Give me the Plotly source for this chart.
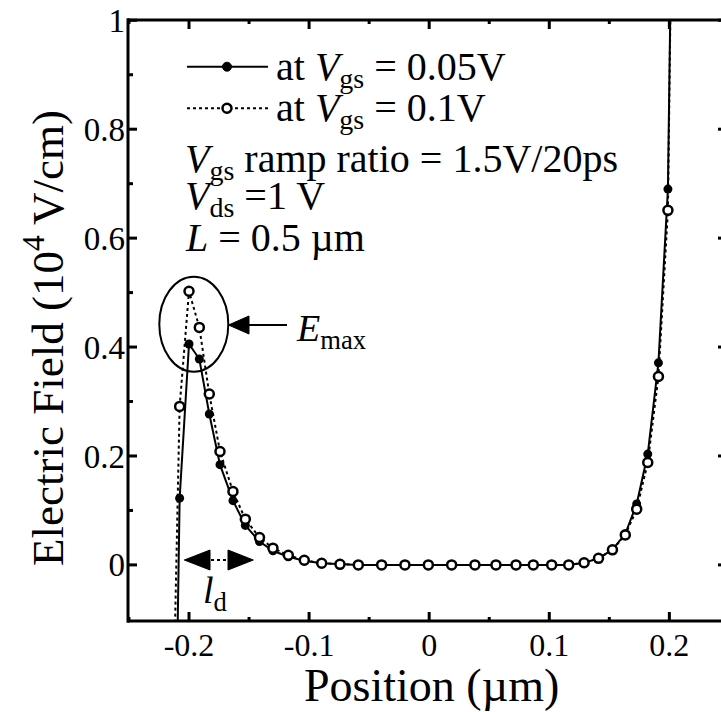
import plotly.graph_objects as go

# ---------------- data ----------------
position_um = [-0.212, -0.2078, -0.2000, -0.1914, -0.1831, -0.1742, -0.1634, -0.1531,
               -0.1413, -0.1301, -0.1173, -0.1040, -0.0895, -0.0743, -0.0590, -0.0396,
               -0.0202, -0.0007, 0.0187, 0.0381, 0.0556, 0.0723, 0.0867, 0.1020,
               0.1162, 0.1290, 0.1410, 0.1526, 0.1633, 0.1728, 0.1820, 0.1909,
               0.1988, 0.2025]

field_vgs_005 = [-0.48, 0.1226, 0.4057, 0.378, 0.277, 0.184, 0.118, 0.0725,
                 0.0428, 0.026, 0.015, 0.0075, 0.003, 0.001, 0.0, 0.0,
                 0.0, 0.0, 0.0, 0.0, 0.0, 0.0, 0.0, 0.0,
                 0.0, 0.004, 0.012, 0.028, 0.057, 0.112, 0.2035, 0.371,
                 0.690, 1.3]

field_vgs_01 = [-0.15, 0.291, 0.5024, 0.436, 0.3137, 0.2083, 0.1348, 0.084,
                0.0502, 0.0307, 0.0178, 0.0086, 0.003, 0.001, 0.0, 0.0,
                0.0, 0.0, 0.0, 0.0, 0.0, 0.0, 0.0, 0.0,
                0.0, 0.004, 0.012, 0.0276, 0.0551, 0.1024, 0.188, 0.346,
                0.651, 1.3]

x_tickvals = [-0.2, -0.1, 0.0, 0.1, 0.2]
x_ticktext = ["-0.2", "-0.1", "0", "0.1", "0.2"]
x_minorvals = [-0.25, -0.15, -0.05, 0.05, 0.15]
y_tickvals = [0, 0.2, 0.4, 0.6, 0.8, 1.0]
y_ticktext = ["0", "0.2", "0.4", "0.6", "0.8", "1"]
y_minorvals = [0.1, 0.3, 0.5, 0.7, 0.9]

legend_labels = ["at <i>V</i><sub>gs</sub> = 0.05V", "at <i>V</i><sub>gs</sub> = 0.1V"]
info_lines = ["<i>V</i><sub>gs</sub> ramp ratio = 1.5V/20ps",
              "<i>V</i><sub>ds</sub> =1 V",
              "<i>L</i> = 0.5 \u00b5m"]

# ---------------- layout geometry ----------------
W, H = 721, 712
L, R, T, B = 128, 721, 20, 621
XR = [-0.2508, 0.2430]
YR = [-0.103, 1.0005]
FONT = "Liberation Serif, Times New Roman, serif"


def fx(px):
    return (px - L) / (R - L)


def fy(py):
    return (B - py) / (B - T)


def dx(v):  # data x -> paper x
    return (v - XR[0]) / (XR[1] - XR[0])


def dy(v):  # data y -> paper y
    return (v - YR[0]) / (YR[1] - YR[0])


fig = go.Figure()

fig.add_trace(go.Scatter(
    x=position_um, y=field_vgs_005, mode="lines+markers",
    line=dict(color="black", width=2),
    marker=dict(symbol="circle", size=9, color="black"),
    showlegend=False))

fig.add_trace(go.Scatter(
    x=position_um, y=field_vgs_01, mode="lines+markers",
    line=dict(color="black", width=2, dash="dot"),
    marker=dict(symbol="circle", size=9, color="white",
                line=dict(color="black", width=2.5)),
    showlegend=False))

shapes = []
annotations = []
BLK = dict(color="black", width=3)

# frame: left, bottom, top (right edge is cut off in the original)
shapes.append(dict(type="line", xref="paper", yref="paper", x0=0, x1=0, y0=-0.003, y1=1.003, line=BLK))
shapes.append(dict(type="line", xref="paper", yref="paper", x0=0, x1=1, y0=0, y1=0, line=BLK))
shapes.append(dict(type="line", xref="paper", yref="paper", x0=0, x1=1, y0=1, y1=1, line=BLK))

# x ticks (bottom and top, inward)
for v in x_tickvals:
    shapes.append(dict(type="line", xref="paper", yref="paper", x0=dx(v), x1=dx(v),
                       y0=0, y1=fy(B - 9), line=BLK))
    shapes.append(dict(type="line", xref="paper", yref="paper", x0=dx(v), x1=dx(v),
                       y0=1, y1=fy(T + 9), line=BLK))
for v in x_minorvals:
    shapes.append(dict(type="line", xref="paper", yref="paper", x0=dx(v), x1=dx(v),
                       y0=0, y1=fy(B - 4), line=BLK))
    shapes.append(dict(type="line", xref="paper", yref="paper", x0=dx(v), x1=dx(v),
                       y0=1, y1=fy(T + 4), line=BLK))
# y ticks (left inward, right stubs at the cut edge)
for v in y_tickvals:
    shapes.append(dict(type="line", xref="paper", yref="paper", x0=0, x1=fx(L + 9),
                       y0=dy(v), y1=dy(v), line=BLK))
    shapes.append(dict(type="line", xref="paper", yref="paper", x0=fx(R - 3), x1=1,
                       y0=dy(v), y1=dy(v), line=BLK))
for v in y_minorvals:
    shapes.append(dict(type="line", xref="paper", yref="paper", x0=0, x1=fx(L + 5),
                       y0=dy(v), y1=dy(v), line=BLK))

# legend samples
leg_rows = [66.7, 108.3]
for i, yy in enumerate(leg_rows):
    shapes.append(dict(type="line", xref="paper", yref="paper",
                       x0=fx(187), x1=fx(268), y0=fy(yy), y1=fy(yy),
                       line=dict(color="black", width=2,
                                 dash="solid" if i == 0 else "dot")))
    r = 4.5
    shapes.append(dict(type="circle", xref="paper", yref="paper",
                       x0=fx(227 - r), x1=fx(227 + r), y0=fy(yy + r), y1=fy(yy - r),
                       fillcolor="black" if i == 0 else "white",
                       line=dict(color="black", width=2.5 if i else 1)))
    annotations.append(dict(text=legend_labels[i], xref="paper", yref="paper",
                            x=fx(274), y=fy(yy + 2), xanchor="left", yanchor="middle",
                            showarrow=False, font=dict(family=FONT, size=40, color="black")))

info_rows = [161, 198, 237]
for txt, yy in zip(info_lines, info_rows):
    annotations.append(dict(text=txt, xref="paper", yref="paper",
                            x=fx(183), y=fy(yy), xanchor="left", yanchor="middle",
                            showarrow=False, font=dict(family=FONT, size=40, color="black")))

# ellipse around the peak
shapes.append(dict(type="circle", xref="paper", yref="paper",
                   x0=fx(159.3), x1=fx(228.3), y0=fy(371.7), y1=fy(276.7),
                   line=dict(color="black", width=2)))

# E_max arrow
ya = 325
shapes.append(dict(type="line", xref="paper", yref="paper",
                   x0=fx(245), x1=fx(287), y0=fy(ya), y1=fy(ya),
                   line=dict(color="black", width=2)))
shapes.append(dict(type="path", xref="paper", yref="paper",
                   path=f"M {fx(228.5)},{fy(ya)} L {fx(249)},{fy(ya - 9)} L {fx(249)},{fy(ya + 9)} Z",
                   fillcolor="black", line=dict(color="black", width=1)))
annotations.append(dict(text="<i>E</i><sub>max</sub>", xref="paper", yref="paper",
                        x=fx(294), y=fy(331), xanchor="left", yanchor="middle",
                        showarrow=False, font=dict(family=FONT, size=38, color="black")))

# l_d double arrow
yd = 560
shapes.append(dict(type="line", xref="paper", yref="paper",
                   x0=fx(205), x1=fx(233), y0=fy(yd), y1=fy(yd),
                   line=dict(color="black", width=2, dash="dot")))
shapes.append(dict(type="path", xref="paper", yref="paper",
                   path=f"M {fx(184.3)},{fy(yd)} L {fx(210)},{fy(yd - 10)} L {fx(210)},{fy(yd + 10)} Z",
                   fillcolor="black", line=dict(color="black", width=1)))
shapes.append(dict(type="path", xref="paper", yref="paper",
                   path=f"M {fx(253.3)},{fy(yd)} L {fx(228)},{fy(yd - 10)} L {fx(228)},{fy(yd + 10)} Z",
                   fillcolor="black", line=dict(color="black", width=1)))
annotations.append(dict(text="<i>l</i><sub>d</sub>", xref="paper", yref="paper",
                        x=fx(215), y=fy(593), xanchor="center", yanchor="middle",
                        showarrow=False, font=dict(family=FONT, size=38, color="black")))

# axis titles
annotations.append(dict(text="Position (\u00b5m)", xref="paper", yref="paper",
                        x=fx(431), y=fy(686), xanchor="center", yanchor="middle",
                        showarrow=False, font=dict(family=FONT, size=46, color="black")))
annotations.append(dict(text="Electric Field (10<sup>4</sup> V/cm)", xref="paper", yref="paper",
                        x=fx(44), y=fy(338), xanchor="center", yanchor="middle",
                        textangle=-90,
                        showarrow=False, font=dict(family=FONT, size=45, color="black")))

fig.update_layout(
    width=W, height=H,
    margin=dict(l=L, r=W - R, t=T, b=H - B, pad=0),
    paper_bgcolor="white", plot_bgcolor="white",
    showlegend=False,
    shapes=shapes, annotations=annotations,
    xaxis=dict(range=XR, showgrid=False, zeroline=False, showline=False,
               ticks="", tickvals=x_tickvals, ticktext=x_ticktext,
               ticklabelstandoff=2,
               tickfont=dict(family=FONT, size=32, color="black")),
    yaxis=dict(range=YR, showgrid=False, zeroline=False, showline=False,
               ticks="", tickvals=y_tickvals, ticktext=y_ticktext,
               ticklabelstandoff=2,
               tickfont=dict(family=FONT, size=33, color="black")),
)

fig.write_html("out.html")
